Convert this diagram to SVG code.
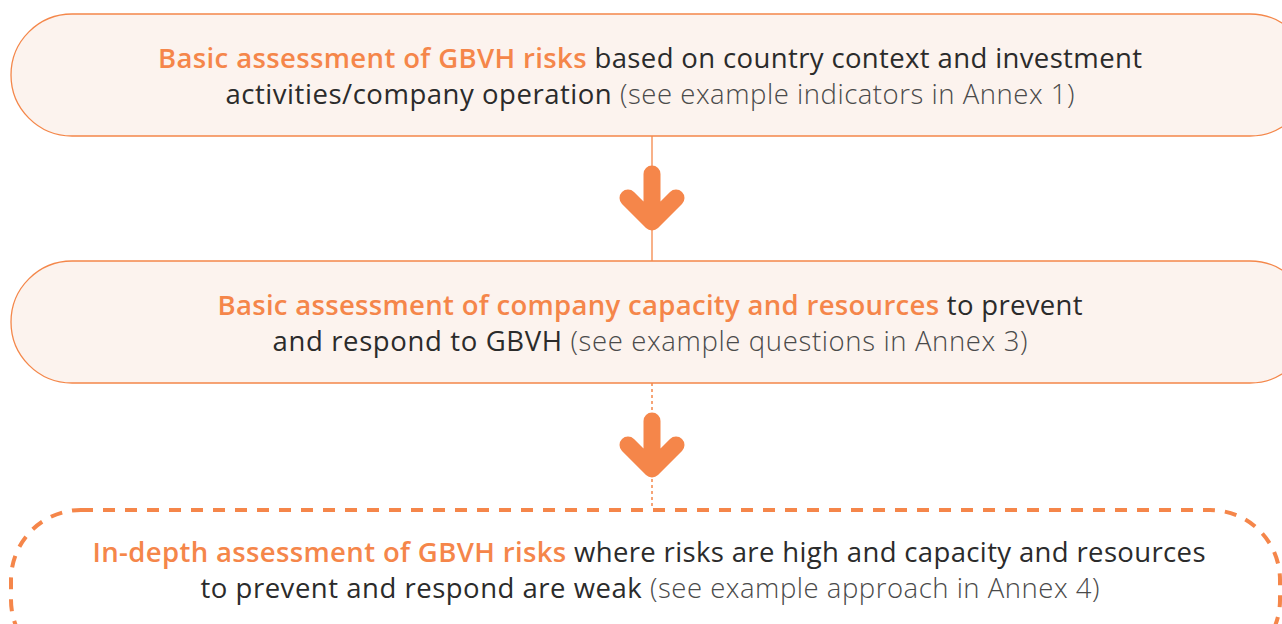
<svg xmlns="http://www.w3.org/2000/svg" width="1282" height="624" viewBox="0 0 1282 624">
<style>
.box{fill:#FCF3EE;stroke:#F4874A;stroke-width:1.3}
.dbox{fill:#FFFFFF;stroke:#F5864A;stroke-width:4;stroke-dasharray:12 10}
.t{font-family:"Open Sans",Lato,sans-serif;font-size:27.5px;fill:#2B2B2B;text-anchor:middle}
.h{fill:#F5864A;font-weight:600}
.g{fill:#4A4A4A;font-weight:300}
.arrow{fill:none;stroke:#F5864A;stroke-width:17;stroke-linecap:round;stroke-linejoin:round}
.ln{stroke:#F4874A;stroke-width:1.3}
.dl{stroke:#F4874A;stroke-width:1.5;stroke-dasharray:3 3}
</style>
<rect width="1282" height="624" fill="#FFFFFF"/>
<g id="connectors">
<line class="ln" x1="652" y1="136" x2="652" y2="261"/>
<path class="arrow" d="M652,174 V221 M628,198 L652,222 L676,198"/>
<line class="dl" x1="652" y1="383" x2="652" y2="509"/>
<path class="arrow" d="M652,421 V468 M628,445 L652,469 L676,445"/>
</g>
<g id="node1">
<rect class="box" x="11" y="14" width="1300" height="122" rx="61" ry="61"/>
<text class="t" x="650" y="68" textLength="984"><tspan class="h">Basic assessment of GBVH risks</tspan> based on country context and investment</text>
<text class="t" x="650" y="104" textLength="849">activities/company operation <tspan class="g">(see example indicators in Annex 1)</tspan></text>
</g>
<g id="node2">
<rect class="box" x="11" y="261" width="1300" height="122" rx="61" ry="61"/>
<text class="t" x="650" y="315" textLength="865"><tspan class="h">Basic assessment of company capacity and resources</tspan> to prevent</text>
<text class="t" x="650" y="351" textLength="755">and respond to GBVH <tspan class="g">(see example questions in Annex 3)</tspan></text>
</g>
<g id="node3">
<rect class="dbox" x="11" y="510" width="1269" height="160" rx="70" ry="70"/>
<text class="t" x="649" y="562" textLength="1113"><tspan class="h">In-depth assessment of GBVH risks</tspan> where risks are high and capacity and resources</text>
<text class="t" x="650" y="598" textLength="899">to prevent and respond are weak <tspan class="g">(see example approach in Annex 4)</tspan></text>
</g>
</svg>
